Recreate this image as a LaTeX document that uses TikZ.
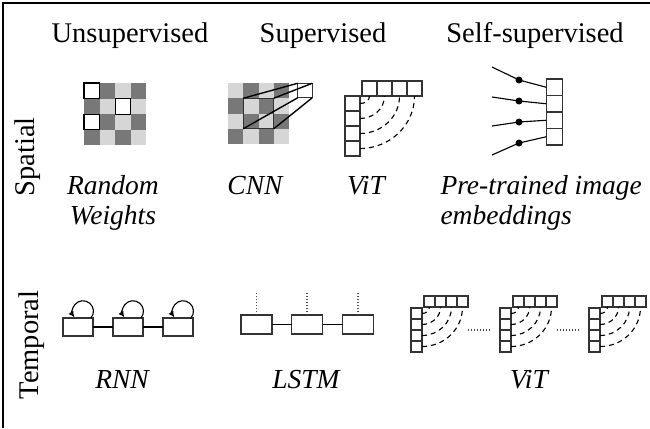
\documentclass[tikz,border=0pt]{standalone}
\usepackage{fontspec}
\setmainfont{Liberation Serif}
\usetikzlibrary{arrows.meta}
\definecolor{darkcell}{gray}{0.47}
\definecolor{lightcell}{gray}{0.84}

\begin{document}
\begin{tikzpicture}[x=0.4pt,y=0.4pt,
  lbl/.style={font=\fontsize{11.4}{12.4}\selectfont, inner sep=0pt},
  ilbl/.style={lbl, font=\fontsize{11}{11.8}\selectfont\itshape},
  box/.style={draw=black!80, line width=0.45pt, inner sep=0pt, outer sep=0pt},
  vcell/.style={box, minimum size=6pt},
  scell/.style={box, minimum size=6.6pt},
  tcell/.style={box, minimum size=4.4pt},
  rbox/.style={box, minimum width=12pt, minimum height=7.2pt},
  lbox/.style={box, minimum width=12.4pt, minimum height=7.6pt},
  dot/.style={circle, fill=black, inner sep=0pt, minimum size=2.8pt},
  attn/.style={dashed, line width=0.45pt, dash pattern=on 2pt off 1.6pt},
  fine/.style={line width=0.45pt, black!70, dash pattern=on 0.5pt off 0.7pt},
  loopar/.style={line width=0.45pt, -{Latex[length=2.4pt,width=2.4pt]}}]
\useasboundingbox (0,0) rectangle (650,-428);
\draw[line width=0.6pt] (3,-428) -- (3,-3) -- (650,-3);
\node[lbl, anchor=base] (unsup) at (130,-42) {Unsupervised};
\node[lbl, anchor=base] (sup) at (323,-42) {Supervised};
\node[lbl, anchor=base] (selfsup) at (535,-42) {Self-supervised};
\node[lbl, rotate=90] (spatial) at (28,-157) {Spatial};
\node[lbl, rotate=90] (temporal) at (32,-345) {Temporal};
\foreach \i in {0,...,3}{\foreach \j in {0,...,3}{
  \pgfmathtruncatemacro\k{mod(\i+\j,2)}
  \ifnum\k=0 \fill[lightcell] (84+15.6*\j,-83-15.6*\i) rectangle ++(15.6,-15.6);
  \else \fill[darkcell] (84+15.6*\j,-83-15.6*\i) rectangle ++(15.6,-15.6); \fi
  \ifnum\k=0 \fill[lightcell] (228+15.25*\j,-83-15.25*\i) rectangle ++(15.25,-15.25);
  \else \fill[darkcell] (228+15.25*\j,-83-15.25*\i) rectangle ++(15.25,-15.25); \fi}}
\foreach \i/\j in {0/0,1/2,2/0}
  \draw[fill=white, line width=0.55pt] (84+15.6*\j,-83-15.6*\i) rectangle ++(15.6,-15.6);
\node[ilbl, align=center, anchor=base] (rw) at (113,-224) {Random\\Weights};
\node[box, line width=0.55pt, minimum size=12.2pt] (kern) at (258.5,-113.5) {};
\node[box, line width=0.55pt, fill=white, minimum size=5.8pt] (fmap) at (305,-90.5) {};
\draw[line width=0.55pt] (kern.north west) -- (fmap.north west);
\draw[line width=0.55pt] (kern.north east) -- (fmap.north east);
\draw[line width=0.55pt] (kern.south west) -- (fmap.south west);
\draw[line width=0.55pt] (kern.south east) -- (fmap.south east);
\node[ilbl, anchor=base] (cnn) at (255,-194) {CNN};
\foreach \i in {1,...,4}{
  \node[vcell] (vc\i) at (352.5,-103.5-15*\i+15) {};
  \node[vcell] (vr\i) at (369.5+15*\i-15,-88.5) {};}
\foreach \i in {1,...,4}
  \draw[attn] (vc\i.east) to[out=0,in=-90] (vr\i.south);
\node[ilbl, anchor=base] (vit) at (366,-194) {ViT};
\foreach \i in {1,...,4}
  \node[scell] (pe\i) at (554.5,-87.25-16.5*\i+16.5) {};
\coordinate (in1) at (492,-67);
\coordinate (in2) at (492,-97);
\coordinate (in3) at (492,-126);
\coordinate (in4) at (492,-155);
\node[dot] (d1) at (519,-80) {};
\node[dot] (d2) at (519,-101) {};
\node[dot] (d3) at (519,-122) {};
\node[dot] (d4) at (519,-143) {};
\foreach \i in {1,...,4}
  \draw[line width=0.45pt] (in\i) -- (d\i.center) -- (pe\i.west);
\node[ilbl, align=left, anchor=base west] (pte) at (440,-224) {Pre-trained image\\embeddings};
\node[rbox] (r1) at (78,-327) {};
\node[rbox] (r2) at (128,-327) {};
\node[rbox] (r3) at (178,-327) {};
\draw[line width=0.45pt] (r1) -- (r2) -- (r3);
\foreach \i in {1,2,3}
  \draw[loopar] ([xshift=-0.8pt]r\i.north east) arc[start angle=-40, end angle=215, radius=10.5];
\node[ilbl, anchor=base] (rnn) at (122,-388) {RNN};
\node[lbox] (l1) at (256.5,-324.5) {};
\node[lbox] (l2) at (307,-324.5) {};
\node[lbox] (l3) at (358,-324.5) {};
\draw[line width=0.45pt] (l1) -- (l2) -- (l3);
\foreach \i in {1,2,3}
  \draw[fine] (l\i.north) -- ++(0,22);
\node[ilbl, anchor=base] (lstm) at (306,-388) {LSTM};
\foreach \g/\gx in {1/411,2/500,3/589}{
  \foreach \i in {1,...,4}{
    \node[tcell] (t\g c\i) at (\gx+5.5,-313.5-11*\i+11) {};
    \node[tcell] (t\g r\i) at (\gx+18.5+11*\i-11,-301.5) {};}
  \foreach \i in {1,...,4}
    \draw[attn] (t\g c\i.east) to[out=0,in=-90] (t\g r\i.south);}
\draw[fine] (t1r4.east |- t1c3.north) -- ([xshift=-3.2pt]t2c3.north west);
\draw[fine] (t2r4.east |- t2c3.north) -- ([xshift=-3.2pt]t3c3.north west);
\node[ilbl, anchor=base] (tvit) at (529,-388) {ViT};
\end{tikzpicture}
\end{document}
